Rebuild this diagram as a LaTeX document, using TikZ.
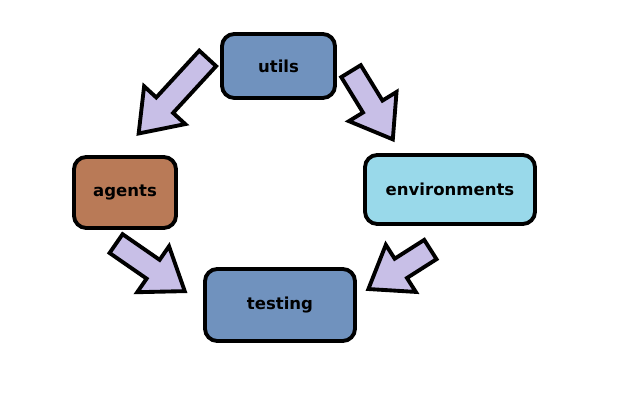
\documentclass[tikz,border=0pt]{standalone}
\usepackage{fontspec}
\setmainfont{DejaVu Sans}
\usetikzlibrary{shapes.arrows}
\begin{document}
\begin{tikzpicture}[mybox/.style={draw,line width=2.2pt,rounded corners=7pt,font=\fontsize{9.4}{11}\selectfont\bfseries},
  myarrow/.style={single arrow,draw,line width=2.2pt,fill=lavender,inner xsep=0pt,inner ysep=0.19cm,
    single arrow head extend=0.33cm,single arrow tip angle=72,anchor=tail}]
\definecolor{bluegray}{HTML}{7092BE}
\definecolor{brown}{HTML}{B97A57}
\definecolor{turquoise}{HTML}{99D9EA}
\definecolor{lavender}{HTML}{C8BFE7}
\useasboundingbox (0,0) rectangle (12.8,8.18);
\node [mybox,fill=bluegray,minimum width=2.26cm,minimum height=1.28cm] (utils) at (5.57,6.86) {utils};
\node [mybox,fill=brown,minimum width=2.04cm,minimum height=1.42cm] (agents) at (2.5,4.33) {agents};
\node [mybox,fill=turquoise,minimum width=3.4cm,minimum height=1.38cm] (environments) at (9.0,4.39) {environments};
\node [mybox,fill=bluegray,minimum width=3.0cm,minimum height=1.44cm] (testing) at (5.6,2.08) {testing};
  \foreach \nm/\x/\y/\ang/\len in {a1/4.18/7.04/227.4/2.04,a2/7.0/6.79/301.5/1.6,a3/2.29/3.33/325.3/1.67,a4/8.64/3.21/212.5/1.47}
  {  \coordinate (\nm) at (\x,\y);
     \node [myarrow,rotate=\ang,minimum height=\len cm] (arr\nm) at (\nm) {};}
\end{tikzpicture}
\end{document}
